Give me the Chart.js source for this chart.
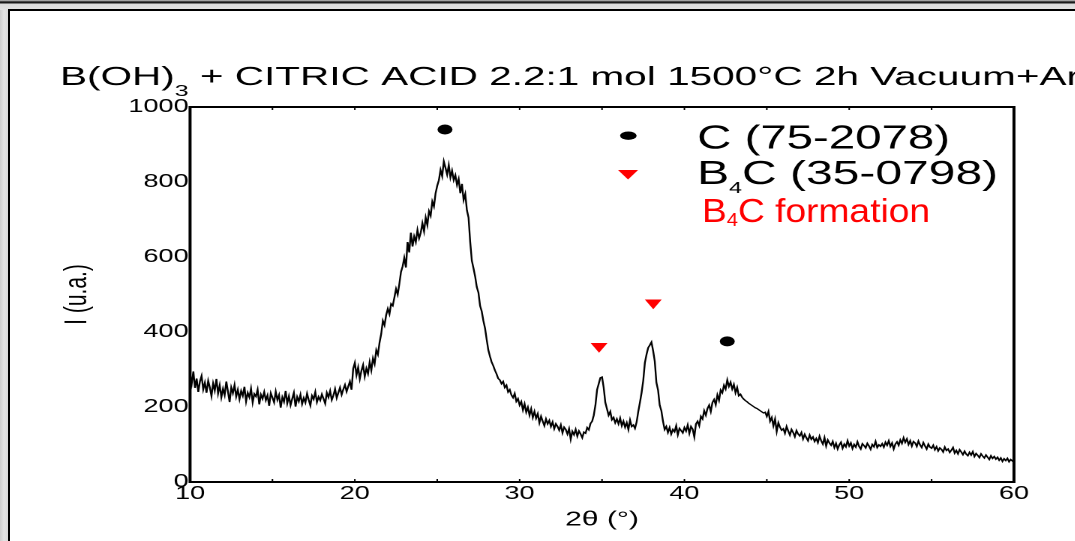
<!DOCTYPE html>
<html>
<head>
<meta charset="utf-8">
<script src="https://cdn.jsdelivr.net/npm/chart.js@4.4.1/dist/chart.umd.min.js"></script>
<style>
  body { margin: 0; width: 1075px; height: 541px; overflow: hidden; position: relative;
         background: linear-gradient(90deg, #cdcdcd 0px, #e4e4e4 4px, #dadada 8px); }
  #topband { position: absolute; left: 0; right: 0; top: 0; height: 10px;
             background: linear-gradient(180deg, #d0d0d0 0px, #1a1a1a 2px, #1a1a1a 3px, #dcdcdc 4px, #e2e2e2 9px); }
  #panel { position: absolute; left: 8px; top: 9px; width: 1100px; height: 560px; background: #fff;
           border-left: 2px solid #000; border-top: 2px solid #000; }
  /* the source picture is stretched sideways, so the whole chart is too */
  #chart { position: absolute; left: 0; top: 0; transform: scaleX(1.5); transform-origin: 0 0; }
</style>
</head>
<body>
<div id="topband"></div>
<div id="panel"></div>
<canvas id="chart" width="717" height="541"></canvas>
<script>
// 2theta scan, 10 -> 60 deg, one reading every 0.1 deg
const thetaStart = 10;
const thetaStep = 0.1;
const intensity = [
  288, 262, 295, 251, 276, 240, 268, 283, 247, 265,
  238, 270, 252, 229, 263, 244, 275, 236, 258, 226,
  249, 232, 268, 241, 213, 252, 237, 259, 228, 246,
  221, 243, 230, 254, 215, 238, 226, 249, 212, 235,
  228, 246, 207, 233, 222, 240, 218, 231, 203, 237,
  225, 212, 241, 219, 232, 198, 226, 214, 243, 210,
  229, 205, 222, 238, 201, 227, 215, 233, 208, 224,
  212, 236, 219, 204, 230, 221, 240, 213, 227, 218,
  234, 222, 209, 238, 226, 243, 219, 231, 248, 224,
  238, 252, 233, 247, 259, 241, 255, 268, 246, 302,
  318, 285, 306, 275, 297, 312, 281, 303, 289, 320,
  298, 330, 315, 352, 340, 372, 395, 430, 418, 445,
  462, 448, 475, 470, 492, 515, 500, 528, 560, 575,
  598, 572, 640, 612, 665, 628, 655, 640, 672, 650,
  665, 690, 668, 705, 685, 722, 710, 748, 735, 770,
  790, 805, 832, 815, 855, 838, 820, 845, 812, 830,
  805, 818, 792, 808, 770, 795, 752, 768, 725, 705,
  640, 590, 570, 548, 520, 505, 470, 455, 430, 410,
  380, 352, 335, 320, 310, 298, 288, 276, 272, 262,
  268, 252, 258, 240, 246, 232, 225, 236, 215, 222,
  205, 214, 192, 208, 186, 199, 178, 195, 172, 188,
  170, 182, 158, 175, 162, 150, 168, 155, 164, 148,
  160, 142, 155, 148, 138, 152, 131, 146, 140, 128,
  142, 114, 135, 126, 140, 122, 136, 128, 118, 133,
  130, 145, 139, 156, 162, 178, 205, 246, 262, 278,
  280, 252, 212, 195, 178, 188, 166, 172, 158, 168,
  155, 170, 150, 162, 146, 158, 140, 165, 148, 152,
  143, 160, 188, 212, 238, 270, 318, 340, 358, 365,
  373, 350, 322, 265, 245, 205, 190, 162, 140, 148,
  132, 145, 128, 140, 134, 150, 126, 143, 137, 131,
  145, 136, 152, 130, 148, 141, 120, 155, 162, 150,
  175, 168, 190, 178, 196, 205, 188, 212, 220, 206,
  232, 218, 245, 238, 258, 248, 272, 255, 266, 248,
  260, 238, 252, 230, 234, 226, 221, 217, 214, 210,
  207, 204, 201, 198, 196, 193, 190, 187, 184, 186,
  175, 188, 162, 172, 150, 168, 135, 158, 146, 138,
  142, 130, 148, 136, 125, 140, 132, 121, 137, 128,
  123, 132, 115, 127, 118, 110, 125, 114, 120, 108,
  116, 105, 122, 110, 101, 118, 96, 112, 104, 98,
  108, 92, 103, 88, 99, 106, 90, 101, 94, 110,
  96, 104, 89, 100, 93, 107, 95, 88, 102, 97,
  91, 103, 96, 87, 100, 94, 108, 92, 99, 95,
  102, 93, 106, 98, 110, 95, 104, 88, 101, 107,
  98, 112, 103, 118, 106, 115, 100, 110, 96, 108,
  104, 95, 109, 99, 92, 105, 96, 88, 101, 93,
  90, 98, 86, 94, 83, 91, 87, 80, 93, 84,
  88, 79, 85, 92, 77, 84, 75, 86, 80, 73,
  82, 74, 70, 79, 72, 81, 68, 76, 71, 65,
  75, 69, 64, 72, 66, 60, 70, 63, 68, 61,
  66, 58, 64, 55, 62, 57, 63, 54, 60, 56,
  62
];

// peak markers
const carbonTheta = [25.47, 42.6];
const carbonI = [940, 375];
const b4cTheta = [34.82, 38.11];
const b4cI = [362, 478];

const FONT = '"Liberation Sans", Arial, sans-serif';

const pattern = intensity.map((v, i) => ({ x: thetaStart + i * thetaStep, y: v }));
const carbonPts = carbonTheta.map((t, i) => ({ x: t, y: carbonI[i] }));
const b4cPts = b4cTheta.map((t, i) => ({ x: t, y: b4cI[i] }));

// text with subscripts, squeezed to a given width
function drawRuns(ctx, runs, x, y, width, color) {
  ctx.save();
  ctx.fillStyle = color;
  ctx.textBaseline = 'alphabetic';
  ctx.textAlign = 'left';
  let natural = 0;
  runs.forEach(r => { ctx.font = r.size + 'px ' + FONT; natural += ctx.measureText(r.t).width; });
  ctx.translate(x, y);
  ctx.scale(width / natural, 1);
  let cx = 0;
  runs.forEach(r => {
    ctx.font = r.size + 'px ' + FONT;
    ctx.fillText(r.t, cx, r.dy || 0);
    cx += ctx.measureText(r.t).width;
  });
  ctx.restore();
}

const decor = {
  id: 'decor',
  afterDraw(chart) {
    const ctx = chart.ctx;
    const a = chart.chartArea;
    const xs = chart.scales.x;

    // frame round the plot
    ctx.save();
    ctx.strokeStyle = '#000';
    ctx.lineWidth = 2;
    ctx.strokeRect(a.left, a.top, a.right - a.left, a.bottom - a.top);
    // small inward ticks on top and bottom
    ctx.lineWidth = 1;
    xs.ticks.forEach(t => {
      const px = xs.getPixelForValue(t.value);
      ctx.beginPath();
      ctx.moveTo(px, a.bottom); ctx.lineTo(px, a.bottom - 3);
      ctx.moveTo(px, a.top); ctx.lineTo(px, a.top + 3);
      ctx.stroke();
    });
    ctx.restore();

    // title
    drawRuns(ctx, [
      { t: 'B(OH)', size: 26 },
      { t: '3', size: 16, dy: 11 },
      { t: ' + CITRIC ACID 2.2:1 mol 1500°C 2h Vacuum+Ar', size: 26 }
    ], 40, 85, 680, '#000');

    // legend
    ctx.save();
    ctx.fillStyle = '#000';
    ctx.beginPath();
    ctx.ellipse(418.9, 135.7, 5.5, 4.2, 0, 0, Math.PI * 2);
    ctx.fill();
    ctx.fillStyle = '#ff0000';
    ctx.beginPath();
    ctx.moveTo(412, 170); ctx.lineTo(425.4, 170); ctx.lineTo(418.7, 179.5);
    ctx.closePath();
    ctx.fill();
    ctx.restore();

    drawRuns(ctx, [{ t: 'C (75-2078)', size: 33 }], 464.7, 148.5, 168.7, '#000');
    drawRuns(ctx, [
      { t: 'B', size: 33 },
      { t: '4', size: 16, dy: 9 },
      { t: 'C (35-0798)', size: 33 }
    ], 464.7, 184, 200.7, '#000');
    drawRuns(ctx, [
      { t: 'B', size: 33 },
      { t: '4', size: 18, dy: 4 },
      { t: 'C formation', size: 33 }
    ], 468, 222, 152, '#ff0000');
  }
};

new Chart(document.getElementById('chart'), {
  type: 'line',
  data: {
    datasets: [
      {
        data: pattern,
        borderColor: '#000',
        borderWidth: 1.2,
        pointRadius: 0,
        tension: 0
      },
      {
        type: 'scatter',
        data: carbonPts,
        pointStyle: 'circle',
        pointRadius: 5,
        backgroundColor: '#000',
        borderWidth: 0
      },
      {
        type: 'scatter',
        data: b4cPts,
        pointStyle: 'triangle',
        pointRotation: 180,
        pointRadius: 6.5,
        backgroundColor: '#ff0000',
        borderWidth: 0
      }
    ]
  },
  options: {
    responsive: false,
    animation: false,
    devicePixelRatio: 2,
    layout: { padding: { left: 0, right: 41, top: 107, bottom: 0 } },
    plugins: { legend: { display: false }, tooltip: { enabled: false } },
    scales: {
      x: {
        type: 'linear',
        min: 10,
        max: 60,
        grid: { display: false, drawTicks: false },
        border: { display: false },
        ticks: {
          stepSize: 5,
          autoSkip: false,
          maxRotation: 0,
          padding: 1,
          color: '#000',
          font: { family: FONT, size: 18 },
          callback: v => (v % 10 === 0 ? String(v) : '')
        },
        title: {
          display: true,
          text: '2θ (°)',
          color: '#000',
          font: { family: FONT, size: 20 },
          padding: { top: 0, bottom: 9 }
        },
        afterFit: s => { s.height = 59; }
      },
      y: {
        min: 0,
        max: 1000,
        grid: { display: false, drawTicks: false },
        border: { display: false },
        ticks: {
          stepSize: 200,
          padding: 1,
          color: '#000',
          font: { family: FONT, size: 18 },
          callback: v => String(v)
        },
        title: {
          display: true,
          text: 'I (u.a.)',
          color: '#000',
          font: { family: FONT, size: 21 },
          padding: { top: 39, bottom: 0 }
        },
        afterFit: s => { s.width = 126.7; }
      }
    }
  },
  plugins: [decor]
});
</script>
</body>
</html>
